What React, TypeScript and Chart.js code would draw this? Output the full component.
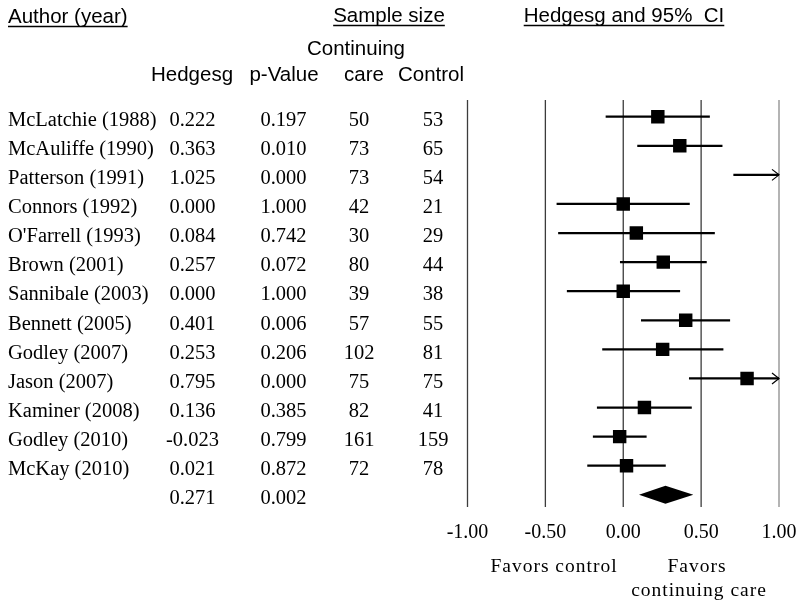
import React, { useEffect, useRef } from "react";
import { Chart, registerables } from "chart.js";

Chart.register(...registerables);

const authors = [
  "McLatchie (1988)",
  "McAuliffe (1990)",
  "Patterson (1991)",
  "Connors (1992)",
  "O'Farrell (1993)",
  "Brown (2001)",
  "Sannibale (2003)",
  "Bennett (2005)",
  "Godley (2007)",
  "Jason (2007)",
  "Kaminer (2008)",
  "Godley (2010)",
  "McKay (2010)",
];
const hedgesG = [0.222, 0.363, 1.025, 0.0, 0.084, 0.257, 0.0, 0.401, 0.253, 0.795, 0.136, -0.023, 0.021];
const pValues = [0.197, 0.01, 0.0, 1.0, 0.742, 0.072, 1.0, 0.006, 0.206, 0.0, 0.385, 0.799, 0.872];
const careN = [50, 73, 73, 42, 30, 80, 39, 57, 102, 75, 82, 161, 72];
const controlN = [53, 65, 54, 21, 29, 44, 38, 55, 81, 75, 41, 159, 78];
const ciLower = [-0.113, 0.09, 0.707, -0.428, -0.418, -0.021, -0.362, 0.114, -0.135, 0.422, -0.169, -0.195, -0.231];
const ciUpper = [0.556, 0.637, 1.343, 0.427, 0.588, 0.536, 0.365, 0.686, 0.643, 1.168, 0.44, 0.15, 0.273];
const summaryG = 0.271;
const summaryP = 0.002;
const summaryLower = 0.101;
const summaryUpper = 0.45;
const xTicks = [-1, -0.5, 0, 0.5, 1];
const xMin = -1;
const xMax = 1;

const SERIF = '"Liberation Serif", "Times New Roman", serif';
const SANS = '"Liberation Sans", Arial, sans-serif';

const forestPlugin = {
  id: "forest",
  beforeDatasetsDraw(chart: any) {
    const { ctx, chartArea, scales } = chart;
    const x = scales.x;
    const y = scales.y;
    ctx.save();
    // vertical reference lines
    xTicks.forEach((t) => {
      const px = x.getPixelForValue(t);
      ctx.strokeStyle = t === xMax ? "#8c8c8c" : "#3c3c3c";
      ctx.lineWidth = 1.3;
      ctx.beginPath();
      ctx.moveTo(px, chartArea.top);
      ctx.lineTo(px, chartArea.bottom);
      ctx.stroke();
    });
    // confidence intervals
    ctx.strokeStyle = "#000";
    hedgesG.forEach((_, i) => {
      const py = y.getPixelForValue(i);
      const lo = Math.max(ciLower[i], xMin);
      const hi = Math.min(ciUpper[i], xMax);
      const x1 = x.getPixelForValue(lo);
      const x2 = x.getPixelForValue(hi);
      ctx.lineWidth = 2.2;
      ctx.beginPath();
      ctx.moveTo(x1, py);
      ctx.lineTo(x2, py);
      ctx.stroke();
      if (ciUpper[i] > xMax) {
        ctx.lineWidth = 1.2;
        ctx.beginPath();
        ctx.moveTo(x2 - 7, py - 5.5);
        ctx.lineTo(x2, py);
        ctx.lineTo(x2 - 7, py + 5.5);
        ctx.stroke();
      }
    });
    // summary diamond
    const sy = y.getPixelForValue(hedgesG.length);
    ctx.fillStyle = "#000";
    ctx.beginPath();
    ctx.moveTo(x.getPixelForValue(summaryLower), sy);
    ctx.lineTo(x.getPixelForValue(summaryG), sy - 9);
    ctx.lineTo(x.getPixelForValue(summaryUpper), sy);
    ctx.lineTo(x.getPixelForValue(summaryG), sy + 9);
    ctx.closePath();
    ctx.fill();
    ctx.restore();
  },
  afterDraw(chart: any) {
    const { ctx, scales } = chart;
    const x = scales.x;
    const y = scales.y;
    ctx.save();
    ctx.fillStyle = "#000";
    ctx.strokeStyle = "#000";
    ctx.textBaseline = "alphabetic";

    const underline = (text: string, px: number, by: number, align: "left" | "center") => {
      ctx.textAlign = align;
      ctx.fillText(text, px, by);
      const w = ctx.measureText(text).width;
      const x0 = align === "left" ? px : px - w / 2;
      ctx.lineWidth = 1.3;
      ctx.beginPath();
      ctx.moveTo(x0, by + 3.5);
      ctx.lineTo(x0 + w, by + 3.5);
      ctx.stroke();
    };

    // headers
    ctx.font = `20.5px ${SANS}`;
    underline("Author (year)", 8, 23, "left");
    underline("Sample size", 389, 22, "center");
    underline("Hedgesg and 95%  CI", 624, 22, "center");
    ctx.textAlign = "center";
    ctx.fillText("Continuing", 356, 55);
    ctx.fillText("Hedgesg", 192, 81);
    ctx.fillText("p-Value", 284, 81);
    ctx.fillText("care", 364, 81);
    ctx.fillText("Control", 431, 81);

    // rows
    ctx.font = `20.5px ${SERIF}`;
    authors.forEach((a, i) => {
      const by = y.getPixelForValue(i) + 9.3;
      ctx.textAlign = "left";
      ctx.fillText(a, 8, by);
      ctx.textAlign = "center";
      ctx.fillText(hedgesG[i].toFixed(3), 192.5, by);
      ctx.fillText(pValues[i].toFixed(3), 283.5, by);
      ctx.fillText(String(careN[i]), 359, by);
      ctx.fillText(String(controlN[i]), 433, by);
    });
    const sby = y.getPixelForValue(authors.length) + 9.3;
    ctx.textAlign = "center";
    ctx.fillText(summaryG.toFixed(3), 192.5, sby);
    ctx.fillText(summaryP.toFixed(3), 283.5, sby);

    // x tick labels
    ctx.font = `20px ${SERIF}`;
    xTicks.forEach((t) => {
      ctx.fillText(t.toFixed(2), x.getPixelForValue(t), 538);
    });

    // favors labels
    ctx.font = `19.5px ${SERIF}`;
    (ctx as any).letterSpacing = "1px";
    ctx.fillText("Favors control", 554, 572);
    ctx.fillText("Favors", 697, 572);
    ctx.fillText("continuing care", 699, 596);
    (ctx as any).letterSpacing = "0px";
    ctx.restore();
  },
};

export default function App() {
  const canvasRef = useRef<HTMLCanvasElement | null>(null);

  useEffect(() => {
    if (!canvasRef.current) return;
    const points = hedgesG
      .map((g, i) => ({ x: g, y: i }))
      .filter((p) => p.x >= xMin && p.x <= xMax);
    const chart = new Chart(canvasRef.current, {
      type: "scatter",
      data: {
        datasets: [
          {
            data: points,
            pointStyle: "rect",
            pointRadius: 9.5,
            pointHoverRadius: 9.5,
            backgroundColor: "#000",
            borderColor: "#000",
            borderWidth: 0,
          },
        ],
      },
      options: {
        responsive: false,
        animation: false,
        events: [],
        layout: { padding: { left: 467.5, right: 21, top: 100, bottom: 102 } },
        plugins: { legend: { display: false }, tooltip: { enabled: false } },
        scales: {
          x: { type: "linear", min: xMin, max: xMax, display: false },
          y: { type: "linear", min: -0.574, max: 13.42, reverse: true, display: false },
        },
      },
      plugins: [forestPlugin],
    });
    return () => chart.destroy();
  }, []);

  return (
    <div style={{ position: "absolute", left: 0, top: 0, width: 800, height: 609, background: "#fff" }}>
      <canvas ref={canvasRef} width={800} height={609} />
    </div>
  );
}
